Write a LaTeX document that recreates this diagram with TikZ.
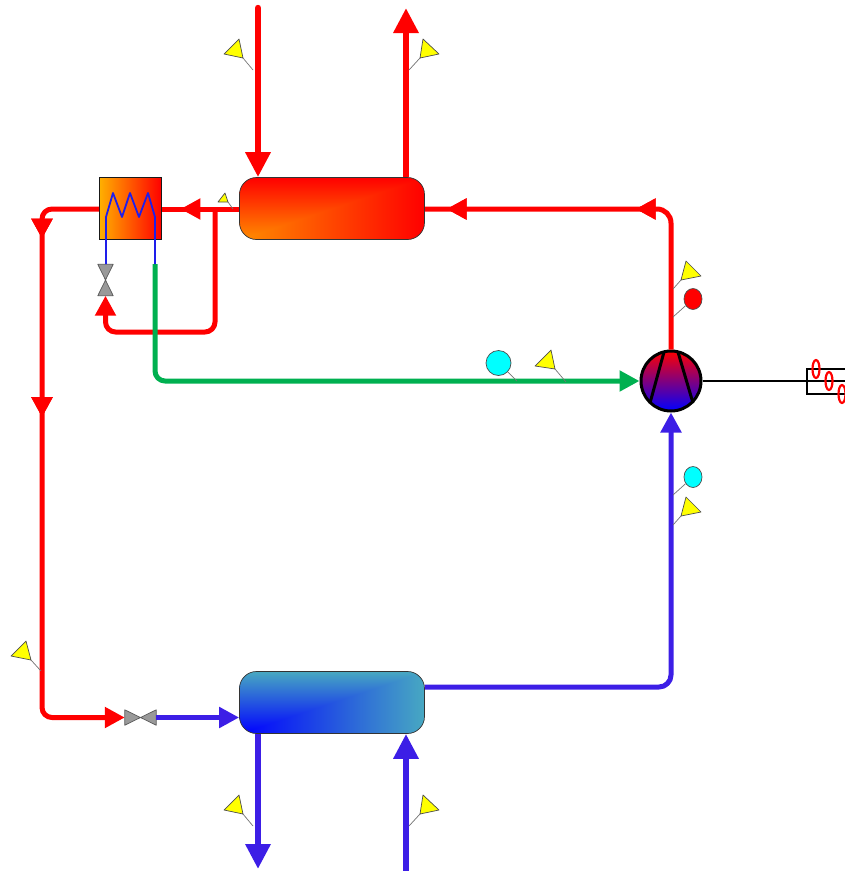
\documentclass[tikz,border=0pt]{standalone}
\usetikzlibrary{arrows.meta,decorations.markings,calc,shapes.geometric}

\definecolor{pipered}{RGB}{255,0,0}
\definecolor{pipeblue}{RGB}{60,30,230}
\definecolor{pipegreen}{RGB}{0,176,80}
\definecolor{coilblue}{RGB}{30,30,235}
\definecolor{hxorange}{RGB}{255,175,0}
\definecolor{flagyellow}{RGB}{255,255,0}
\definecolor{probecyan}{RGB}{0,255,255}
\definecolor{compblue}{RGB}{0,0,255}
% corner to corner colouring of the two vessels
\pgfdeclarefunctionalshading{condshade}{\pgfpointorigin}{\pgfpoint{100bp}{100bp}}{}{
	25 sub 50 div exch 25 sub 50 div
	2 copy gt {pop} {exch pop} ifelse
	1 exch sub 0.55 mul 1 exch 0
}
\pgfdeclarefunctionalshading{evapshade}{\pgfpointorigin}{\pgfpoint{100bp}{100bp}}{}{
	25 sub 50 div exch 25 sub 50 div
	2 copy gt {pop} {exch pop} ifelse
	dup 0.28 mul exch dup 0.66 mul exch 0.24 mul 1 exch sub
}
\tikzset{
	pipe/.style={line width=#1, line cap=butt, line join=round},
	pipe/.default=5pt,
	bigtip/.style={-{Triangle[width=24pt,length=25pt]}},
	smalltip/.style={-{Triangle[width=20pt,length=20pt]}},
	midtip/.style={postaction={decorate}, decoration={markings,
		mark=at position #1 with {\arrow{Triangle[width=20pt,length=20pt]}}}},
	vessel/.style={draw=black!80, line width=0.7pt, rounded corners=17pt, minimum width=185pt, minimum height=62pt, inner sep=0pt},
	flag/.style={draw=black!70, fill=flagyellow, line width=0.7pt, line join=round},
	leader/.style={draw=black!55, line width=0.7pt},
	probe/.style={ellipse, draw=black!70, line width=0.7pt, inner sep=0pt},
	valve/.style={inner sep=0pt},
	valvepart/.style={draw=black!65, fill=black!40, line width=0.7pt, line join=round}
}

\begin{document}
\begin{tikzpicture}[x=1pt,y=-1pt]
	\useasboundingbox (0,0) rectangle (845,871);

	% equipment
	\node[vessel, shade, shading=condshade] (cond) at (332,208.5) {};
	\node[vessel, shade, shading=evapshade] (evap) at (332,702.5) {};
	\node[draw=black!90, line width=0.8pt, left color=hxorange, right color=pipered, minimum size=62pt, inner sep=0pt] (hx) at (130.5,208.5) {};
	\node[circle, draw=black, line width=3pt, top color=pipered, bottom color=compblue, minimum size=60pt, inner sep=0pt] (comp) at (671,381) {};
	\node[valve, minimum width=15pt, minimum height=31pt] (valvehx) at (105.5,280) {};
	\node[valve, minimum width=31pt, minimum height=15pt] (valveexp) at (140.5,717.5) {};

	% free ends of the pipes
	\coordinate (hotin) at (258,8);
	\coordinate (hotout) at (406,8);
	\coordinate (coldout) at (258,869);
	\coordinate (coldin) at (406,871);
	\coordinate (tee) at (215,209);
	\coordinate (coilend) at (155,264);

	% compressor blades
	\draw[line width=3pt] (664,352) -- (650,403);
	\draw[line width=3pt] (678,352) -- (693,403);

	% valves
	\draw[valvepart] (valvehx.north west) -- (valvehx.north east) -- (valvehx.center) -- cycle;
	\draw[valvepart] (valvehx.south west) -- (valvehx.south east) -- (valvehx.center) -- cycle;
	\draw[valvepart] (valveexp.north west) -- (valveexp.south west) -- (valveexp.center) -- cycle;
	\draw[valvepart] (valveexp.north east) -- (valveexp.south east) -- (valveexp.center) -- cycle;

	% red pipes
	\draw[pipe=6.4pt, pipered, line cap=round, bigtip] (hotin) -- (hotin |- cond.north);
	\draw[pipe=6.4pt, pipered, bigtip] (hotout |- cond.north) -- (hotout);
	\draw[pipe, pipered, rounded corners=14pt, midtip=0.446, midtip=0.943] (comp.north) |- (cond.east |- 0,209);
	\draw[pipe, pipered, midtip=0.76] (cond.west |- 0,209) -- (hx.east |- 0,209);
	\draw[pipe, pipered, rounded corners=10pt, midtip=0.129, midtip=0.408, smalltip] (hx.west |- 0,209) -| (42,717.5) -- (valveexp.west);
	\draw[pipe, pipered, rounded corners=10pt, smalltip] (tee) |- (105.5,332) -- (valvehx.south);

	% green pipe
	\draw[pipe, pipegreen, rounded corners=10pt, smalltip] (coilend) |- (comp.west);

	% blue pipes
	\draw[pipe, pipeblue, smalltip] (valveexp.east) -- (evap.west |- valveexp);
	\draw[pipe, pipeblue, rounded corners=12pt, smalltip] (evap.east |- 0,687) -| (comp.south);
	\draw[pipe=6.4pt, pipeblue, bigtip] (coldout |- evap.south) -- (coldout);
	\draw[pipe=6.4pt, pipeblue, bigtip] (coldin) -- (coldin |- evap.south);

	% coil
	\draw[coilblue, line width=1.8pt, line join=round] (106,264) -- (106,217) -- (113,193) -- (122,217) -- (130,193) -- (139,217) -- (148,193) -- (155,217) -- (coilend);

	% shaft and motor
	\draw[line width=1.3pt] (comp.east) -- (850,381);
	\draw[line width=1.3pt] (850,369) -- (807,369) -- (807,394) -- (850,394);
	\foreach \px/\py in {816/369, 829/381, 842/394}
		\draw[pipered, line width=2.2pt] (\px,\py) ellipse (3.5pt and 9pt);

	% sensors
	\node[probe, fill=pipered, minimum width=18pt, minimum height=21pt] (probehot) at (693,299) {};
	\node[probe, fill=probecyan, minimum size=25pt] (probemid) at (498.5,363) {};
	\node[probe, fill=probecyan, minimum width=18pt, minimum height=21pt] (probecold) at (693,477) {};
	\draw[leader] (probehot) -- (673,317);
	\draw[leader] (probemid) -- (517,381);
	\draw[leader] (probecold) -- (673,495);

	% flags
	\foreach \ax/\ay/\bx/\by/\cx/\cy/\dx/\dy in {
		239/39/224/54/243/58/253/70, 423/39/439/54/420/58/409/70,
		239/795/224/810/243/814/253/826, 423/795/439/810/420/814/409/826,
		686/261/701/276/681/280/673/289, 686/497/701/512/681/516/673/525,
		551/350/535/366/555/369/566/382, 225/193/218/202/228/202/233/209,
		26/641/11/656/31/660/41/671} {
		\draw[leader] (\cx,\cy) -- (\dx,\dy);
		\draw[flag] (\ax,\ay) -- (\bx,\by) -- (\cx,\cy) -- cycle;
	}
\end{tikzpicture}
\end{document}
